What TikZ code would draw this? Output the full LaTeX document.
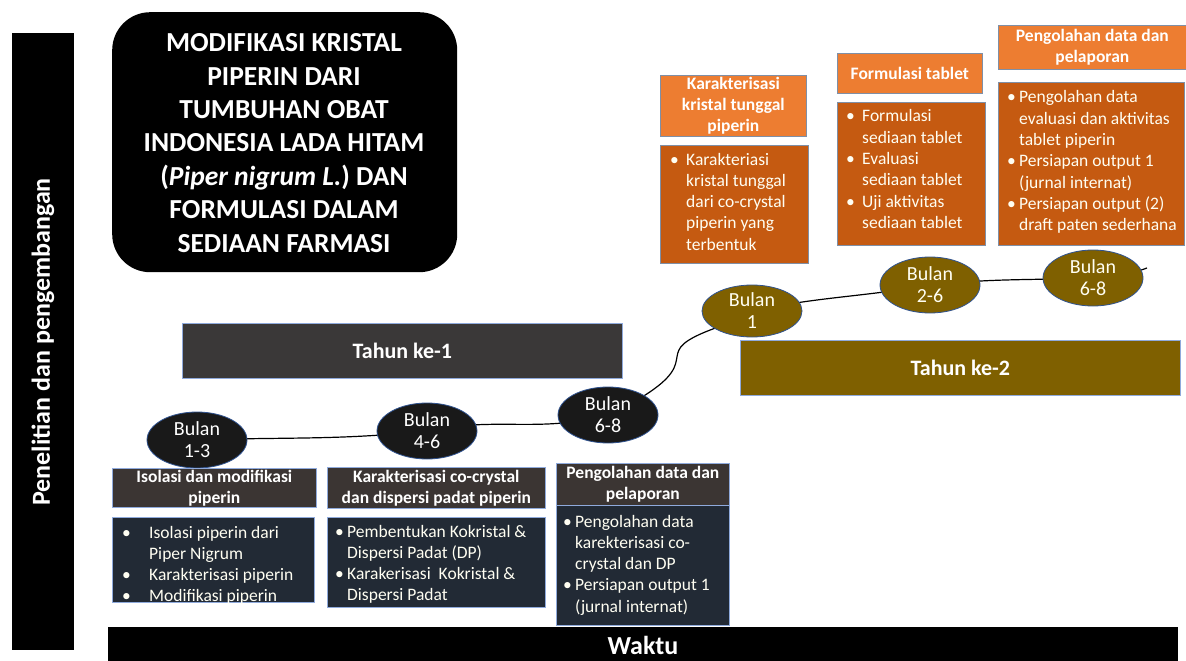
\documentclass[tikz,border=0pt]{standalone}
\usepackage{fontspec}
\setmainfont{Carlito}
\usetikzlibrary{shapes.geometric}
\definecolor{tdark}{HTML}{3A3838}
\definecolor{hdark}{HTML}{3B3533}
\definecolor{navy}{HTML}{222A35}
\definecolor{olive}{HTML}{7F6000}
\definecolor{orl}{HTML}{ED7D31}
\definecolor{ord}{HTML}{C55A11}
\definecolor{lblue}{HTML}{8FAADC}
\definecolor{eblue}{HTML}{2F528F}
\definecolor{ogray}{HTML}{7F8FA6}
\newlength\bulind
\newcommand\bl[1]{\par\spaceskip=0pt\xspaceskip=0pt\rightskip=0pt plus 1fil\parfillskip=0pt plus 1fil\noindent\hangindent=\bulind\hangafter=1\makebox[\bulind][l]{\textbullet}#1\par}
\newcommand\nl{\hfil\break}
\tikzset{
  box/.style={rectangle, inner sep=0pt, anchor=north west},
  blackbar/.style={box, fill=black},
  darkhead/.style={box, fill=hdark, draw=lblue, line width=0.7pt},
  navybody/.style={box, fill=navy, draw=lblue, line width=0.7pt},
  orhead/.style={box, fill=orl, draw=ogray, line width=0.7pt},
  orbody/.style={box, fill=ord, draw=ogray, line width=0.7pt},
  headtxt/.style={text=white, align=center, font=\bfseries\fontsize{17.5}{21.2}\selectfont},
  bodytxt/.style={text=white!95!yellow, anchor=north west, inner sep=0pt, align=left, font=\fontsize{17.5}{21.3}\selectfont},
  blk/.style={ellipse, fill=black!90, draw=eblue, line width=0.8pt, minimum width=100pt, minimum height=56pt, inner sep=0pt, align=center, text=white, font=\fontsize{20}{22}\selectfont},
  olv/.style={blk, fill=olive, text=white!95!yellow},
  curve/.style={line width=1.2pt, black},
}
\begin{document}
\begin{tikzpicture}[x=1pt,y=1pt]
\useasboundingbox (0,0) rectangle (1186,-661);
% left bar
\node[blackbar, minimum width=62pt, minimum height=617pt] (lbar) at (12,-33) {};
\node[rotate=90, text=white, font=\bfseries\fontsize{26}{30}\selectfont] (lbartxt) at (43,-342) {Penelitian dan pengembangan};
% title
\node[box, fill=black, rounded corners=38pt, minimum width=345pt, minimum height=260pt] (title) at (112,-12) {};
\node[text=white, align=center, font=\bfseries\fontsize{27.5}{33.4}\selectfont] (titletxt) at (284,-143) {MODIFIKASI KRISTAL\\PIPERIN DARI\\TUMBUHAN OBAT\\INDONESIA LADA HITAM\\(\textit{Piper nigrum L.}) DAN\\FORMULASI DALAM\\SEDIAAN FARMASI};
% Waktu
\node[blackbar, minimum width=1070pt, minimum height=36pt] (waktu) at (108,-627) {};
\node[text=white, font=\bfseries\fontsize{26}{28}\selectfont] (waktutxt) at (643,-645) {Waktu};
% Tahun
\node[box, fill=tdark, draw=lblue, line width=0.7pt, minimum width=440pt, minimum height=55pt] (t1) at (182,-323) {};
\node[text=white, font=\bfseries\fontsize{22}{24}\selectfont] (t1txt) at (t1.center) {Tahun ke-1};
\node[box, fill=olive, draw=lblue, line width=0.7pt, minimum width=440pt, minimum height=55pt] (t2) at (740,-340) {};
\node[text=white, font=\bfseries\fontsize{22}{24}\selectfont] (t2txt) at (t2.center) {Tahun ke-2};
% timeline curve
\coordinate (b1c) at (197,-440);
\coordinate (b2c) at (427,-431);
\coordinate (b3c) at (608,-415);
\coordinate (c1c) at (752,-311);
\coordinate (c2c) at (930,-285);
\coordinate (c3c) at (1093,-278);
\coordinate (tail) at (1147,-268);
\draw[curve] (b1c) to[out=2,in=186] (b2c) to[out=12,in=195] (b3c);
\draw[curve] (b3c) ++(28:40) to[out=32,in=200,looseness=1.9] ([shift={(205:40)}]c1c);
\draw[curve] (c1c) to[out=12,in=190] (c2c) to[out=6,in=182] (c3c) to[out=2,in=200] (tail);
% ellipses
\node[blk] (b1) at (b1c) {Bulan\\1-3};
\node[blk] (b2) at (b2c) {Bulan\\4-6};
\node[blk] (b3) at (b3c) {Bulan\\6-8};
\node[olv, minimum height=52pt] (c1) at (c1c) {Bulan\\1};
\node[olv] (c2) at (c2c) {Bulan\\2-6};
\node[olv] (c3) at (c3c) {Bulan\\6-8};
% lower boxes
\node[darkhead, minimum width=204pt, minimum height=39pt] (ah) at (112,-468) {};
\node[headtxt] (ahtxt) at (ah.center) {Isolasi dan modifikasi\\piperin};
\node[navybody, minimum width=202pt, minimum height=85pt] (ab) at (112,-517) {};
\setlength\bulind{27pt}
\node[bodytxt, text width=200pt] (abtxt) at (122,-516.5) {\bl{Isolasi piperin dari\nl Piper Nigrum}\bl{Karakterisasi piperin}\bl{Modifikasi piperin}};
\node[darkhead, minimum width=218pt, minimum height=41pt] (bh) at (327,-467) {};
\node[headtxt] (bhtxt) at (bh.center) {Karakterisasi co-crystal\\dan dispersi padat piperin};
\node[navybody, minimum width=218pt, minimum height=90pt] (bb) at (327,-517) {};
\setlength\bulind{12pt}
\node[bodytxt, text width=215pt] (bbtxt) at (335,-515.5) {\bl{Pembentukan Kokristal \&\nl Dispersi Padat (DP)}\bl{Karakerisasi\ \ Kokristal \&\nl Dispersi Padat}};
\node[darkhead, minimum width=173pt, minimum height=42pt] (ch) at (556,-463) {};
\node[headtxt] (chtxt) at (ch.center) {Pengolahan data dan\\pelaporan};
\node[navybody, minimum width=173pt, minimum height=120pt] (cb) at (556,-505) {};
\node[bodytxt, text width=180pt] (cbtxt) at (563,-505.5) {\bl{Pengolahan data\nl karekterisasi co-\nl crystal dan DP}\bl{Persiapan output 1\nl (jurnal internat)}};
% upper boxes
\node[orhead, minimum width=146pt, minimum height=61pt] (dh) at (660,-75) {};
\node[headtxt] (dhtxt) at (dh.center) {Karakterisasi\\kristal tunggal\\piperin};
\node[orbody, minimum width=148pt, minimum height=118pt] (db) at (660,-145) {};
\setlength\bulind{16pt}
\node[bodytxt, text width=160pt] (dbtxt) at (670,-143.5) {\bl{Karakteriasi\nl kristal tunggal\nl dari co-crystal\nl piperin yang\nl terbentuk}};
\node[orhead, minimum width=145pt, minimum height=40pt] (eh) at (837,-53) {};
\node[headtxt] (ehtxt) at (eh.center) {Formulasi tablet};
\node[orbody, minimum width=148pt, minimum height=143pt] (eb) at (837,-102) {};
\node[bodytxt, text width=160pt] (ebtxt) at (846,-100.5) {\bl{Formulasi\nl sediaan tablet}\bl{Evaluasi\nl sediaan tablet}\bl{Uji aktivitas\nl sediaan tablet}};
\node[orhead, minimum width=188pt, minimum height=44pt] (fh) at (998,-25) {};
\node[headtxt] (fhtxt) at (fh.center) {Pengolahan data dan\\pelaporan};
\node[orbody, minimum width=186pt, minimum height=163pt] (fb) at (998,-82) {};
\setlength\bulind{12pt}
\node[bodytxt, text width=185pt] (fbtxt) at (1007,-81.5) {\bl{Pengolahan data\nl evaluasi dan aktivitas\nl tablet piperin}\bl{Persiapan output 1\nl (jurnal internat)}\bl{Persiapan output (2)\nl draft paten sederhana}};
\end{tikzpicture}
\end{document}
